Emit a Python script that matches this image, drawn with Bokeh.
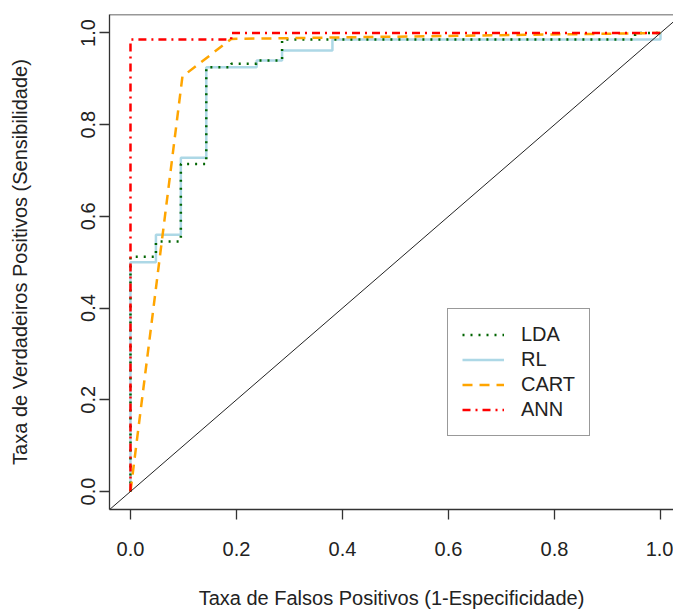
from bokeh.plotting import figure
from bokeh.models import Range1d, FixedTicker, PrintfTickFormatter, Legend, LegendItem, Slope, Span
from bokeh.embed import file_html
from bokeh.resources import INLINE

# ROC curve data
fpr_lda = [0.0, 0.0, 0.048, 0.048, 0.095, 0.095, 0.143, 0.143, 0.190, 0.190, 0.238, 0.238, 0.286, 0.286, 0.952, 0.952, 1.0]
tpr_lda = [0.0, 0.512, 0.512, 0.545, 0.545, 0.714, 0.714, 0.925, 0.925, 0.933, 0.933, 0.940, 0.940, 0.986, 0.986, 1.0, 1.0]

fpr_rl = [0.0, 0.0, 0.048, 0.048, 0.095, 0.095, 0.143, 0.143, 0.238, 0.238, 0.286, 0.286, 0.381, 0.381, 1.0, 1.0]
tpr_rl = [0.0, 0.500, 0.500, 0.560, 0.560, 0.728, 0.728, 0.925, 0.925, 0.940, 0.940, 0.962, 0.962, 0.986, 0.986, 1.0]

fpr_cart = [0.0, 0.098, 0.190, 1.0]
tpr_cart = [0.0, 0.905, 0.987, 1.0]

fpr_ann = [0.0, 0.0, 0.190, 0.190, 1.0]
tpr_ann = [0.0, 0.986, 0.986, 1.0, 1.0]

tick_values = [0.0, 0.2, 0.4, 0.6, 0.8, 1.0]
series_names = ["LDA", "RL", "CART", "ANN"]

x_label = "Taxa de Falsos Positivos (1-Especificidade)"
y_label = "Taxa de Verdadeiros Positivos (Sensibilidade)"

FONT = "Liberation Sans"
TXT = "#222222"
AX = "#333333"

x_start, x_end = -0.0396, 1.0245
y_start, y_end = -0.0393, 1.0403

p = figure(frame_width=564, frame_height=495,
           x_range=Range1d(x_start, x_end), y_range=Range1d(y_start, y_end),
           output_backend="svg", toolbar_location=None,
           min_border_left=109, min_border_right=0, min_border_top=14, min_border_bottom=100)

p.grid.visible = False
p.outline_line_color = None
p.background_fill_color = "white"

for ax in (p.xaxis[0], p.yaxis[0]):
    ax.ticker = FixedTicker(ticks=tick_values)
    ax.formatter = PrintfTickFormatter(format="%.1f")
    ax.major_tick_out = 10
    ax.major_tick_in = 0
    ax.minor_tick_out = 0
    ax.minor_tick_in = 0
    ax.axis_line_color = AX
    ax.axis_line_width = 1.3
    ax.major_tick_line_color = AX
    ax.major_tick_line_width = 1.3
    ax.major_label_text_font = FONT
    ax.major_label_text_font_size = "20px"
    ax.major_label_text_color = TXT
    ax.axis_label_text_font = FONT
    ax.axis_label_text_font_size = "20px"
    ax.axis_label_text_font_style = "normal"
    ax.axis_label_text_color = TXT

p.xaxis.axis_label = x_label
p.yaxis.axis_label = y_label
p.xaxis.major_label_standoff = 22
p.xaxis.axis_label_standoff = 28
p.yaxis.major_label_orientation = "vertical"
p.yaxis.major_label_standoff = 4
p.yaxis.axis_label_standoff = 48

# top border of the box
p.add_layout(Span(location=y_end, dimension="width", line_color=AX, line_width=1.3))

# diagonal reference line
p.add_layout(Slope(gradient=1, y_intercept=0, line_color="#222222", line_width=1))

r_rl = p.line(fpr_rl, tpr_rl, line_color="#ADD8E6", line_width=2.5)
r_lda = p.line(fpr_lda, tpr_lda, line_color="#006400", line_width=2.5, line_dash="2 6")
r_cart = p.line(fpr_cart, tpr_cart, line_color="#FFA500", line_width=2.5, line_dash="10 7")
r_ann = p.line(fpr_ann, tpr_ann, line_color="#FF0000", line_width=2.5, line_dash="8 5 2 5")

legend = Legend(items=[
    LegendItem(label=series_names[0], renderers=[r_lda]),
    LegendItem(label=series_names[1], renderers=[r_rl]),
    LegendItem(label=series_names[2], renderers=[r_cart]),
    LegendItem(label=series_names[3], renderers=[r_ann]),
], location=(338, 73))
legend.border_line_color = AX
legend.border_line_width = 1.3
legend.background_fill_color = "white"
legend.background_fill_alpha = 1.0
legend.padding = 14
legend.spacing = 2
legend.margin = 0
legend.label_height = 19
legend.glyph_height = 19
legend.glyph_width = 42
legend.label_standoff = 17
legend.label_text_font = FONT
legend.label_text_font_size = "20px"
legend.label_text_color = TXT
p.add_layout(legend, "center")

open("out.html", "w").write(file_html(p, INLINE))
